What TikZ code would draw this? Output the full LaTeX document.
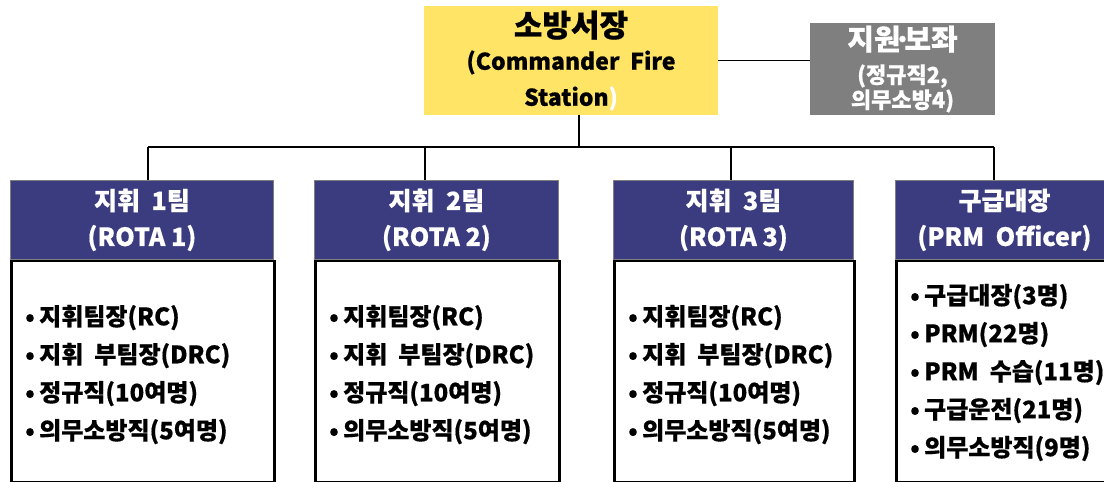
\documentclass[tikz,border=0pt]{standalone}
\usepackage{fontspec}
\setmainfont{Noto Sans CJK KR}[BoldFeatures={FakeBold=0.5}]
\usetikzlibrary{positioning}

\definecolor{chiefyellow}{HTML}{FFE466}
\definecolor{supportgrey}{HTML}{7F7F7F}
\definecolor{rotablue}{HTML}{3B3C80}

\tikzset{
    chiefbox/.style={fill=chiefyellow, minimum width=294pt, minimum height=109pt,
        inner sep=0pt, align=center, font=\bfseries\fontsize{23}{36}\selectfont},
    supportbox/.style={fill=supportgrey, text=white, minimum width=185pt, minimum height=92pt,
        inner sep=0pt, align=center, font=\bfseries\fontsize{22}{25}\selectfont},
    rotahead/.style={fill=rotablue, draw=gray, line width=0.8pt, text=white, minimum height=79pt,
        inner sep=0pt, align=center, anchor=north west, font=\bfseries\fontsize{25}{36}\selectfont},
    rotabody/.style={fill=white, draw=black, line width=2.5pt, minimum height=221pt,
        inner sep=0pt, anchor=north west},
    itemlist/.style={anchor=west, align=left, inner sep=0pt, font=\bfseries\fontsize{24}{38}\selectfont},
    link/.style={draw=black, line width=1.1pt}
}
\newcommand{\itm}{\makebox[14pt][l]{•}}

\begin{document}
\begin{tikzpicture}[x=1pt, y=-1pt]
    \useasboundingbox (0,0) rectangle (1104,482);
    \clip (0,0) rectangle (1104,482);

    % top
    \node[chiefbox] (chief) at (571,60.5) {{\fontsize{31}{31}\selectfont 소방서장}\\[-3pt](Commander\ \ Fire\\Station\textcolor{white}{)}};
    \node[supportbox] (support) at (902.5,69) {{\fontsize{29}{29}\selectfont 지원\kern-7pt·\kern-7pt보좌}\\[8pt](정규직2,\\의무소방4)};
    \draw[link] (chief.east) -- (chief.east -| support.west);

    % bus
    \coordinate (cdrop) at (579,147);
    \coordinate (hub1) at (148,147);
    \coordinate (hub2) at (425,147);
    \coordinate (hub3) at (731,147);
    \coordinate (hub4) at (994,147);
    \draw[link] (cdrop |- chief.south) -- (cdrop);
    \draw[link] (hub1) -- (hub4);

    % rota teams
    \foreach \i/\xl/\w in {1/10/263, 2/314/244, 3/613/240}{
        \node[rotahead, minimum width=\w pt] (rota\i) at (\xl,180) {지휘\ \ \i 팀\\(ROTA \i)};
        \node[rotabody, minimum width=\w pt] (body\i) at (rota\i.south west) {};
        \node[itemlist] (list\i) at ([xshift=15pt, yshift=-3pt]body\i.west)
            {\itm 지휘팀장(RC)\\\itm 지휘\ \ 부팀장(DRC)\\\itm 정규직(10여명)\\\itm 의무소방직(5여명)};
        \draw[link] (hub\i) -- (hub\i |- rota\i.north);
    }

    % prm
    \node[rotahead, minimum width=218pt] (rota4) at (895,180) {구급대장\\(PRM\ \ Officer)};
    \node[rotabody, minimum width=218pt] (body4) at (rota4.south west) {};
    \node[itemlist] (list4) at ([xshift=15pt, yshift=-1pt]body4.west)
        {\itm 구급대장(3명)\\\itm PRM(22명)\\\itm PRM\ \ 수습(11명)\\\itm 구급운전(21명)\\\itm 의무소방직(9명)};
    \draw[link] (hub4) -- (hub4 |- rota4.north);
\end{tikzpicture}
\end{document}
